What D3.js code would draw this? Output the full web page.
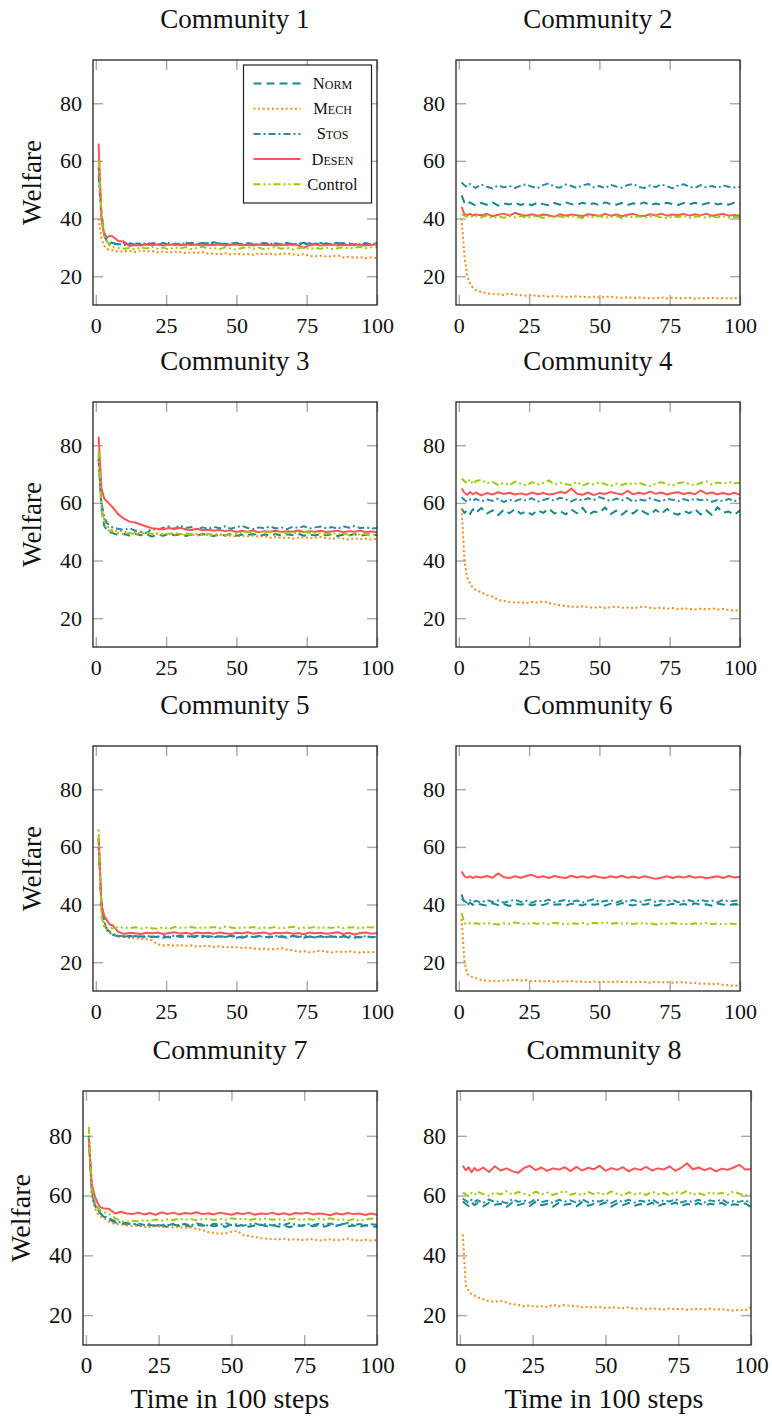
<!DOCTYPE html>
<html>
<head>
<meta charset="utf-8">
<script src="https://cdn.jsdelivr.net/npm/d3@7"></script>
<style>
  body { margin: 0; background: #fff; }
  svg text { font-family: "Liberation Serif", serif; fill: #111; }
</style>
</head>
<body>
<svg id="chart"></svg>
<script>
// x positions of the sampled points (time in 100 steps)
const steps = [1, 2, 3, 4, 5, 6, 8, 10, 12, 14, 16, 18, 20, 22, 24, 26, 28, 30, 32, 34, 36, 38, 40,
  42, 44, 46, 48, 50, 52, 54, 56, 58, 60, 62, 64, 66, 68, 70, 72, 74, 76, 78, 80,
  82, 84, 86, 88, 90, 92, 94, 96, 98, 100];

const xTicks = [0, 25, 50, 75, 100];
const yTicks = [20, 40, 60, 80];
const methods = ["Norm", "Mech", "Stos", "Desen", "Control"];
const communities = ["Community 1", "Community 2", "Community 3", "Community 4",
  "Community 5", "Community 6", "Community 7", "Community 8"];

// Community 1
const c1Norm = [58, 42, 35, 33, 32, 31.5, 31, 31.5, 30.8, 31.5, 31, 30.7, 31.4, 31, 31.5, 30.8, 31.3, 31, 31.6, 30.9, 31.2, 31.5, 31, 31.8, 31, 31.3, 30.8, 31.4, 31, 31.5, 30.9, 31.2, 31.5, 31, 31.3, 30.8, 31.5, 31, 31.2, 31.6, 30.9, 31.3, 31, 31.4, 30.8, 31.2, 31.5, 31, 30.9, 31.3, 31, 31.2, 31.5];
const c1Mech = [40, 33, 30.5, 29.5, 29, 29, 28.5, 28.6, 28.8, 28.4, 28.9, 28.5, 28.7, 28.3, 28.6, 28.2, 28.5, 28.4, 28, 28.3, 28.1, 28.4, 27.8, 27.9, 27.6, 28, 27.5, 27.8, 27.5, 27.7, 27.4, 27.9, 27.6, 27.8, 27.5, 27.7, 27.9, 27.6, 27.3, 27.7, 27, 26.9, 27.1, 26.8, 26.9, 27.2, 26.5, 26.7, 26.4, 26.6, 26.3, 26.5, 26.2];
const c1Stos = [55, 40, 34, 32, 31.5, 31, 31.2, 30.8, 31.4, 31, 31.5, 31.1, 31.6, 31, 31.3, 31.5, 30.9, 31.4, 31.2, 31.6, 31, 31.3, 31.5, 31.1, 31.4, 30.9, 31.3, 31.6, 31, 31.4, 31.2, 30.9, 31.5, 31.2, 31.4, 31, 31.6, 31.1, 31.3, 30.9, 31.4, 31.2, 31.5, 31, 31.3, 31.6, 31.1, 31.4, 30.9, 31.2, 31.5, 31, 31.4];
const c1Desen = [66, 40, 34.5, 33.5, 34, 33.8, 32.2, 32, 30.5, 30.8, 30.6, 31, 30.7, 31, 30.6, 30.9, 31, 30.7, 31, 30.8, 31, 30.6, 30.9, 30.8, 31, 30.6, 30.9, 31, 30.7, 30.9, 30.6, 31, 30.8, 30.9, 30.6, 31, 30.8, 31, 30.7, 29.8, 30.8, 31, 30.6, 30.8, 31, 30.6, 30.9, 30.7, 31, 30.8, 30.6, 30.9, 31];
const c1Control = [60, 42, 34, 32, 30.5, 30, 29.8, 29.5, 29.8, 29.3, 30, 29.6, 30.2, 29.5, 29.9, 29.3, 30, 29.6, 30.1, 29.4, 29.8, 30.2, 29.5, 29.8, 29.4, 30, 29.6, 29.2, 29.8, 30.1, 29.5, 29.9, 29.3, 29.7, 30.1, 29.5, 29.9, 29.3, 29.7, 30, 29.4, 29.8, 29.5, 29.9, 29.4, 29.7, 30.1, 29.6, 29.9, 30.2, 29.7, 30, 30];

// Community 2
const c2Norm = [48, 45.5, 44.8, 45.6, 45, 44.6, 45.4, 44.8, 45.6, 44.5, 45.2, 44.9, 45.5, 44.7, 45.3, 44.6, 45.5, 45, 44.6, 45.4, 44.8, 45.6, 45, 44.7, 45.5, 44.9, 45.3, 44.6, 45.6, 45, 44.8, 45.4, 44.7, 45.3, 44.9, 45.6, 44.6, 45.2, 44.8, 45.5, 45, 44.7, 45.4, 44.9, 45.5, 44.7, 45.2, 45.6, 44.9, 45.3, 44.8, 45.5, 45.1];
const c2Mech = [40, 27, 20, 17.5, 16, 15.2, 14.5, 14, 13.8, 13.7, 13.5, 14, 13.6, 13.4, 13.2, 13.5, 13, 13.2, 12.9, 13.1, 13, 12.8, 12.9, 13, 12.8, 12.7, 12.9, 12.6, 12.8, 12.9, 12.6, 12.5, 12.7, 12.4, 12.6, 12.5, 12.3, 12.4, 12.6, 12.3, 12.5, 12.4, 12.3, 12.5, 12.2, 12.4, 12.3, 12.5, 12.3, 12.4, 12.2, 12.4, 12.5];
const c2Stos = [52.5, 51.5, 51, 52, 51.2, 50.6, 51.8, 51, 50.4, 51.5, 50.8, 51.3, 50.6, 51.4, 51.9, 51, 50.5, 51.6, 52.2, 51, 50.7, 51.8, 51.3, 50.6, 51.5, 52, 50.8, 51.3, 50.5, 51.7, 51.1, 50.7, 51.6, 52, 51, 50.6, 51.5, 50.9, 51.8, 51.2, 50.5, 51.4, 51.9, 51, 50.6, 51.6, 50.8, 51.3, 50.7, 51.5, 51, 50.8, 51];
const c2Desen = [44, 41.5, 41.2, 41.6, 41, 41.4, 41.1, 41.6, 40.8, 41.3, 41.7, 41, 42, 41.3, 41, 41.5, 40.9, 41.4, 41.1, 40.6, 41.5, 41, 41.4, 41.1, 40.8, 41.5, 41.2, 40.9, 41.6, 41, 41.4, 40.8, 41.3, 41.6, 41, 40.9, 41.5, 41.1, 41.7, 41, 41.4, 41.2, 41.6, 41, 41.5, 41.1, 41.7, 40.9, 41.3, 41.6, 41, 41.2, 41];
const c2Control = [41.5, 41, 40.6, 41, 40.5, 40.8, 40.4, 41, 40.2, 40.7, 40.3, 40.8, 40.4, 40.9, 40.3, 40.6, 40.9, 40.2, 40.7, 40.4, 40.8, 40.3, 40.9, 40.5, 40.2, 40.8, 40.4, 40.9, 40.3, 40.6, 40.9, 40.2, 40.7, 40.4, 40.8, 40.3, 40.6, 40.9, 40.4, 40.1, 40.7, 40.5, 40.9, 40.3, 40.6, 40.8, 40.2, 40.7, 40.4, 40.9, 40.3, 40.6, 40.5];

// Community 3
const c3Norm = [76, 58, 52, 50.5, 49.8, 49.5, 48.8, 49.2, 48.7, 49.3, 48.8, 49.1, 48.3, 49, 48.6, 49.3, 48.8, 49.1, 48.5, 49, 48.7, 49.2, 48.8, 48.5, 49.1, 48.7, 49.3, 48.6, 49, 48.8, 49.2, 48.5, 49, 48.7, 49.2, 48.6, 49.1, 48.8, 49.3, 48.6, 49, 48.7, 49.2, 48.8, 49.1, 48.5, 49, 48.7, 49.2, 48.6, 48.9, 49.1, 48.8];
const c3Mech = [77, 60, 54, 52, 51, 50.5, 50.3, 50, 49.6, 49.8, 49.4, 49.5, 49.2, 49.3, 49, 49.4, 48.9, 49.2, 48.8, 49, 48.7, 49, 48.8, 48.6, 48.9, 48.5, 48.7, 48.3, 48.6, 48.4, 48.7, 48.3, 48.5, 47.9, 48.2, 47.8, 48, 47.6, 47.9, 48.1, 47.7, 47.9, 48.2, 47.8, 47.5, 47.9, 47.6, 47.3, 47.7, 47.4, 47.6, 47.3, 47.6];
const c3Stos = [75, 60, 55, 53, 52, 51.5, 51, 50.6, 51.2, 50.4, 50, 49.5, 51, 50.6, 51.4, 51.8, 51, 52.2, 51.3, 51.6, 50.8, 51.5, 51, 51.7, 51.2, 51.9, 51, 51.6, 52, 51.3, 50.9, 51.5, 51.2, 51.8, 51.1, 51.5, 50.9, 51.7, 51.3, 51.9, 51.1, 51.5, 51.8, 51.2, 51.6, 51, 51.9, 51.4, 52, 51.2, 51.6, 51.1, 51.3];
const c3Desen = [83, 65, 61.5, 60.5, 59.5, 58.5, 56, 54.5, 53.5, 53.2, 52.5, 51.8, 51.2, 51, 50.8, 51.3, 50.9, 51.4, 50.8, 50.6, 51, 50.5, 50.7, 50.3, 50.6, 50.2, 50.5, 49.9, 50.3, 50, 50.4, 49.8, 50.2, 50, 50.3, 49.9, 50.2, 50, 50.4, 49.9, 50.2, 50, 50.3, 49.9, 50.1, 50.3, 49.8, 50.2, 50, 50.3, 49.9, 50.1, 49.8];
const c3Control = [78, 58, 52.5, 51, 50.2, 50, 49.5, 49.2, 49.6, 49, 49.4, 49.7, 49.2, 49.5, 49, 49.3, 49.6, 49.1, 49.4, 49, 49.3, 48.9, 49.2, 49, 49.3, 48.8, 49.1, 49.4, 49.7, 49.9, 49.6, 50, 49.7, 49.9, 49.5, 49.8, 49.4, 49.7, 49.5, 49.9, 49.6, 49.3, 49.6, 49.2, 49.5, 49.1, 49.4, 48.9, 49.2, 49, 49.3, 48.9, 49];

// Community 4
const c4Norm = [58, 56.5, 57.5, 56.2, 57.8, 56.5, 58.2, 56.3, 57.4, 55.8, 57.6, 56.4, 57.9, 56.2, 57.1, 55.9, 57.5, 56.5, 58, 56.3, 57.2, 56, 57.7, 56.4, 58.3, 55.8, 57, 56.6, 58.4, 56.1, 57.3, 55.9, 57.5, 56.3, 58, 56.7, 55.8, 57.6, 56.2, 57.9, 56.5, 55.9, 57.2, 56.4, 57.8, 56, 57.4, 55.8, 58.5, 56.6, 57, 55.9, 57.4];
const c4Mech = [58, 40, 34, 32, 30.5, 29.8, 29, 28, 27.5, 26.3, 26, 25.6, 25.4, 25.5, 25.2, 25.6, 25.4, 25.8, 25.3, 24.8, 24.5, 24.2, 24, 23.9, 24.1, 23.8, 23.6, 23.9, 23.5, 23.8, 24, 23.6, 23.7, 23.5, 23.8, 24, 23.6, 23.4, 23.7, 23.2, 23.5, 23.1, 23.4, 23.2, 23, 23.3, 23.1, 23.4, 23, 23.2, 22.8, 22.6, 22.8];
const c4Stos = [62, 61, 60.4, 61.2, 60.6, 61.4, 60.5, 61.2, 60.7, 61.5, 60.3, 61.1, 60.6, 61.3, 60.8, 61.6, 60.4, 61, 61.5, 60.7, 61.8, 61.2, 60.5, 61.4, 60.8, 61.6, 61, 62, 61.3, 60.6, 61.5, 60.9, 61.7, 60.4, 61.2, 60.8, 61.6, 61, 60.5, 61.4, 61.1, 60.6, 61.3, 60.7, 61.5, 60.9, 61.2, 60.4, 61, 60.6, 61.4, 60.5, 61.6];
const c4Desen = [65, 63.5, 62.8, 63.8, 63, 63.6, 62.6, 63.4, 62.9, 63.7, 63.1, 63.5, 62.9, 63.3, 62.8, 63.6, 63, 63.4, 62.9, 63.2, 63.8, 63.4, 65, 63.2, 62.8, 63.6, 62.7, 63.4, 63.1, 63.8, 63.3, 62.9, 64.2, 63, 63.5, 63.1, 63.9, 63.2, 63.6, 62.9, 63.4, 63.7, 63.1, 63.5, 63, 64.3, 63.2, 63.6, 63, 63.4, 62.9, 63.5, 62.8];
const c4Control = [68.5, 67.5, 66.8, 68.2, 66.5, 67.5, 68, 66.8, 67.3, 66.2, 66.9, 66.1, 67.4, 66.6, 66, 67.2, 66.4, 66.9, 67.8, 66.3, 67, 66.5, 66.2, 67.3, 66, 66.8, 66.4, 67.1, 66.5, 65.8, 66.7, 66.2, 66.9, 66.4, 67, 66.3, 65.8, 66.6, 67.2, 66.5, 66, 66.8, 67.2, 66.5, 66.1, 66.9, 67.5, 66.4, 67.1, 66.6, 67.3, 66.8, 67];

// Community 5
const c5Norm = [60, 40, 34, 31, 30, 29.5, 29, 28.8, 29.2, 28.7, 29, 28.6, 28.9, 28.7, 29.1, 28.6, 28.9, 29.2, 28.7, 29, 28.6, 29.1, 28.8, 28.6, 29, 28.7, 29.2, 28.8, 28.5, 29, 28.7, 29.1, 28.6, 28.9, 28.6, 29, 28.7, 29.2, 28.8, 28.5, 28.9, 28.7, 29, 28.6, 28.9, 28.7, 29.1, 28.5, 28.9, 28.6, 29, 28.7, 28.8];
const c5Mech = [66, 38, 33, 31, 30, 29.5, 29, 28.7, 28.6, 28.3, 28.1, 28, 27.6, 26.2, 25.8, 26, 25.7, 25.9, 25.6, 25.8, 25.4, 25.6, 25.7, 25.3, 25.5, 25.1, 25.3, 25.2, 24.9, 25.1, 24.8, 24.5, 24.7, 24.4, 24.6, 24.9, 24.3, 24.1, 23.6, 23.8, 23.4, 23.7, 24, 23.6, 23.4, 23.7, 23.5, 23.8, 23.5, 23.3, 23.6, 23.4, 23.6];
const c5Stos = [63, 40, 34, 31.5, 30.5, 29.8, 29.2, 29, 28.6, 29.1, 28.8, 29.2, 28.7, 29, 28.5, 28.9, 29.2, 28.7, 29, 28.8, 29.2, 28.6, 29, 28.8, 29.1, 28.7, 29, 28.5, 28.9, 29.2, 28.7, 29, 28.8, 28.6, 29.1, 28.8, 28.5, 29, 28.7, 29.2, 28.9, 28.6, 29, 28.7, 29.1, 28.6, 28.9, 29.1, 28.5, 28.8, 29, 28.6, 28.9];
const c5Desen = [63, 40, 36, 34.5, 33, 32.8, 30.5, 29.8, 30.2, 30, 29.8, 30.2, 30, 30.3, 29.8, 30.1, 30.4, 29.9, 30.2, 29.8, 30.3, 30, 30.2, 29.9, 30.3, 30, 29.8, 30.2, 30, 30.4, 29.9, 30.1, 30.3, 29.8, 30.2, 30, 30.3, 29.9, 30.1, 29.7, 30.3, 30, 30.2, 29.9, 30.1, 30.4, 29.8, 30.2, 29.6, 30.1, 30.3, 29.9, 30.1];
const c5Control = [64, 36, 32, 31.5, 32, 31.8, 32.2, 32, 31.8, 32.1, 31.7, 32, 31.8, 31.6, 32.1, 31.5, 32.2, 31.9, 32, 32.2, 31.8, 32.1, 31.9, 32.2, 31.8, 32.3, 32, 31.7, 32.1, 31.9, 32.2, 31.8, 32, 31.9, 32.2, 31.7, 32, 32.3, 31.8, 32, 31.9, 32.2, 31.8, 32.1, 31.9, 32.3, 31.8, 32, 32.1, 31.7, 32.2, 32, 32.2];

// Community 6
const c6Norm = [43.5, 40.5, 39.8, 40.6, 39.9, 40.4, 40, 39.6, 40.4, 39.8, 40.2, 39.5, 40.3, 39.9, 40.4, 39.7, 40.2, 39.8, 40.5, 39.9, 40.1, 39.6, 40.3, 40, 39.7, 40.4, 39.9, 40.2, 39.6, 40.3, 39.8, 40.5, 40, 39.7, 40.2, 39.9, 40.4, 39.6, 40.1, 39.8, 40.3, 39.9, 40.2, 39.7, 40.4, 39.9, 40.1, 39.6, 40.3, 40, 39.8, 40.2, 40];
const c6Mech = [35, 20, 16, 15.2, 14.8, 14.5, 13.8, 13.5, 13.6, 13.4, 13.6, 13.7, 14, 13.6, 13.8, 13.4, 13.5, 13.3, 13.5, 13.2, 13.4, 13.3, 13.5, 13.2, 13.4, 13, 13.3, 13.1, 13.2, 13, 13.3, 13.1, 13.2, 13, 13.2, 13.1, 12.9, 13.2, 13, 13.1, 12.9, 13, 13.1, 12.7, 12.8, 12.5, 12.6, 12.4, 12.5, 12.2, 12, 11.8, 12];
const c6Stos = [42, 41.2, 40.6, 41.5, 40.8, 41.3, 40.7, 41.6, 40.9, 41.4, 40.6, 41.2, 41.7, 40.9, 41.3, 40.6, 41.5, 41, 41.7, 40.8, 41.2, 41.6, 40.9, 41.4, 40.7, 41.3, 41.8, 40.9, 41.2, 41.5, 40.7, 41.4, 41, 41.6, 40.8, 41.3, 41.7, 40.9, 41.4, 41, 41.6, 40.8, 41.2, 41.5, 40.9, 41.7, 41.1, 41.4, 40.8, 41.6, 41, 41.3, 41.5];
const c6Desen = [51.5, 49.8, 49.3, 49.8, 49.2, 49.7, 49.4, 49.9, 49.3, 50.8, 49.5, 49.2, 49.8, 49.3, 49.9, 50.3, 49.4, 49.8, 49.2, 49.9, 49.5, 49.2, 50, 49.4, 49.8, 49.3, 49.9, 49.5, 49.2, 49.8, 49.4, 50, 49.3, 49.7, 49.2, 49.8, 49.4, 48.9, 49.3, 49.8, 49.2, 49.7, 49.4, 49.9, 49.3, 49.6, 49.1, 49.5, 49.8, 49.2, 49.9, 49.4, 49.6];
const c6Control = [37, 33.5, 33.2, 33.6, 33.3, 33.5, 33.2, 33.6, 33.3, 33.1, 33.5, 33.3, 33.8, 33.4, 33.2, 33.6, 33.3, 33.5, 33.2, 33.7, 33.4, 33.1, 33.5, 33.3, 33.6, 33.2, 33.7, 33.4, 33.9, 33.3, 33.6, 33.4, 33.5, 33.2, 33.6, 33.3, 33.5, 33.1, 33.4, 33.2, 33.6, 33.3, 33.4, 33.1, 33.5, 33.3, 33.6, 33.2, 33.4, 33.1, 33.5, 33.2, 33.4];

// Community 7
const c7Norm = [80, 62, 57, 55, 54, 53, 52, 51, 50.8, 50.3, 50.6, 50.1, 49.8, 50.2, 49.7, 50.1, 49.5, 50.3, 49.8, 50.1, 49.6, 50.2, 49.9, 50.3, 49.7, 50.1, 49.5, 50.4, 49.8, 50.2, 49.6, 50, 50.3, 49.7, 50.2, 49.6, 50, 49.4, 50.1, 49.8, 50.3, 49.7, 50.1, 49.6, 50.2, 49.8, 50.4, 49.7, 50, 49.5, 50.1, 49.7, 49.6];
const c7Mech = [80, 60, 56, 54, 53, 52.5, 51.2, 50.5, 50.3, 50, 49.8, 50, 49.6, 49.5, 49.8, 49.4, 49.6, 49.3, 49.5, 49.1, 49.4, 48.8, 48.5, 47.8, 47.5, 47.2, 47.4, 47.9, 48.2, 46.8, 46.5, 46.1, 45.8, 45.6, 45.5, 45.3, 45.6, 45.2, 45.4, 45.1, 45.3, 45.5, 44.9, 45.2, 45.4, 45, 45.3, 45.6, 45.1, 44.9, 45.2, 45, 45.1];
const c7Stos = [80, 61, 57, 55.5, 54, 53.2, 52.3, 51.5, 51, 50.8, 50.4, 50.7, 50.2, 50.5, 49.9, 50.4, 50, 50.6, 50.1, 50.5, 50, 50.7, 50.3, 50, 50.6, 50.2, 50.8, 50.1, 50.5, 49.9, 50.4, 50.7, 50.1, 50.5, 50, 50.6, 50.2, 50.8, 50.3, 49.9, 50.5, 50.1, 50.6, 50.2, 50.7, 50, 50.4, 50.8, 50.1, 50.5, 50, 50.4, 50.2];
const c7Desen = [79, 64, 60, 57.5, 56, 55.8, 55.5, 54, 54.6, 54, 53.8, 54.3, 53.7, 54.2, 53.6, 54.4, 53.8, 54.3, 53.7, 54.2, 53.9, 54.4, 53.8, 54.1, 53.7, 54.3, 53.9, 53.6, 54.2, 53.8, 54.3, 53.6, 54, 53.8, 54.3, 53.7, 54.1, 53.6, 54.2, 53.9, 54.3, 53.7, 54, 53.8, 53.4, 54.1, 53.7, 54.2, 53.8, 54, 53.5, 54, 53.6];
const c7Control = [83, 62, 58, 56, 55, 54.5, 53.8, 52.5, 51.5, 51.2, 51.6, 51.4, 51.8, 51.5, 52, 51.6, 52.1, 51.8, 52.3, 51.9, 52.2, 51.7, 52.1, 52.3, 51.8, 52.2, 51.9, 52.4, 52, 52.3, 51.8, 52.2, 52, 52.4, 51.9, 52.2, 51.7, 52.1, 52.3, 51.8, 52.2, 51.9, 52.3, 52, 52.4, 51.8, 52.1, 51.6, 52.2, 51.5, 52, 52.3, 52.1];

// Community 8
const c8Norm = [58, 57.2, 56.5, 57.8, 56.8, 57.5, 56.4, 57.6, 56.9, 57.3, 56.2, 57.7, 56.8, 57.4, 56.5, 57.9, 56.8, 57.2, 56.3, 57.6, 56.9, 57.3, 56.4, 57.8, 56.6, 57.2, 56.9, 57.7, 56.3, 57.4, 56.8, 57.5, 56.6, 57.2, 56.8, 57.6, 56.4, 57.3, 56.9, 57.7, 56.5, 57.2, 56.8, 57.5, 56.6, 57.3, 56.9, 57.6, 56.5, 57.1, 56.8, 57.4, 56.2];
const c8Mech = [47, 30, 28, 27, 26.5, 26, 25.3, 24.6, 24.5, 24.8, 24.2, 23.6, 23.5, 23, 23.2, 22.8, 23, 22.7, 23.5, 22.9, 23.4, 23.1, 23, 22.6, 22.8, 22.5, 22.7, 22.4, 22.6, 22.5, 22.3, 22.6, 22.1, 22.3, 22, 22.2, 22.1, 21.9, 22.2, 22, 22.1, 21.8, 22, 22.1, 21.9, 22.2, 21.8, 22, 21.7, 21.5, 21.8, 21.6, 22.6];
const c8Stos = [59, 58.3, 57.6, 58.6, 57.9, 58.5, 57.5, 58.7, 57.8, 58.2, 57.4, 58.8, 57.9, 58.4, 57.6, 58.9, 57.8, 58.3, 57.5, 58.6, 58, 58.4, 57.6, 58.8, 57.7, 58.3, 58, 58.7, 57.5, 58.4, 57.9, 58.6, 57.7, 58.3, 57.9, 58.7, 57.6, 58.4, 58, 58.8, 57.7, 58.3, 57.9, 58.6, 57.7, 58.4, 58, 58.7, 57.6, 58.2, 57.9, 58.5, 57.4];
const c8Desen = [70, 68.5, 69.5, 67.8, 69.2, 68.3, 69.4, 67.9, 69.8, 68.4, 69.1, 68.2, 67.6, 69.2, 70, 68.5, 69.4, 68.3, 69.1, 68.7, 69.5, 68.2, 69.6, 68.4, 69.3, 68.8, 70, 68.3, 69.2, 68.6, 69.5, 68.1, 69.1, 68.6, 69.6, 68.4, 69.1, 68.7, 69.8, 68.3, 69.3, 70.8, 68.8, 69.4, 68.5, 69.2, 68.1, 69, 68.6, 69.4, 70.3, 68.7, 68.8];
const c8Control = [61, 60.4, 59.8, 60.9, 60.2, 61.3, 60.5, 59.9, 61, 60.4, 61.5, 60.3, 61.2, 60.6, 60.1, 61.3, 60.4, 61, 60.2, 60.9, 61.5, 60.3, 60.8, 60.1, 61.2, 60.5, 60.9, 60.2, 61.4, 60.6, 60, 61.1, 60.4, 60.8, 60.2, 61.3, 60.5, 60.9, 60.1, 61.2, 60.6, 61.6, 60.3, 60.8, 60.2, 61.1, 60.5, 60.9, 60.3, 61.4, 60.6, 60, 60.7];

// one row per community, columns in the order of `methods`
const welfare = [
  [c1Norm, c1Mech, c1Stos, c1Desen, c1Control],
  [c2Norm, c2Mech, c2Stos, c2Desen, c2Control],
  [c3Norm, c3Mech, c3Stos, c3Desen, c3Control],
  [c4Norm, c4Mech, c4Stos, c4Desen, c4Control],
  [c5Norm, c5Mech, c5Stos, c5Desen, c5Control],
  [c6Norm, c6Mech, c6Stos, c6Desen, c6Control],
  [c7Norm, c7Mech, c7Stos, c7Desen, c7Control],
  [c8Norm, c8Mech, c8Stos, c8Desen, c8Control]
];

const lineStyle = {
  Norm:    { color: "#16898a", dash: "8,5" },
  Mech:    { color: "#ff8a1c", dash: "2,2.6" },
  Stos:    { color: "#2a8ba6", dash: "7,3,2,3" },
  Desen:   { color: "#ff5356", dash: null },
  Control: { color: "#9acd0a", dash: "7,3,2,3,2,3" }
};

const svg = d3.select("#chart")
  .attr("width", 772)
  .attr("height", 1418);

// box of each panel; the bottom row is drawn a touch larger
function panelBox(i) {
  const row = Math.floor(i / 2), col = i % 2;
  if (row < 3) return { left: [93, 456][col], top: [60, 402, 746][row], w: 284, h: 245, fs: 22, big: 27, ylab: -61 };
  return { left: [83, 457][col], top: 1091, w: 294, h: 254, fs: 23, big: 28, ylab: -63 };
}

communities.forEach(function (name, i) {
  const b = panelBox(i);
  const g = svg.append("g").attr("transform", "translate(" + b.left + "," + b.top + ")");

  const x = d3.scaleLinear().domain([-1, 100]).range([0, b.w]);
  const y = d3.scaleLinear().domain([10, 95]).range([b.h, 0]);

  g.append("clipPath").attr("id", "clip" + i)
    .append("rect").attr("width", b.w).attr("height", b.h);

  // ticks on all four sides, pointing inwards
  const axes = [
    { ax: d3.axisBottom(x).tickValues(xTicks).tickSize(-10).tickPadding(28 - 0.71 * b.fs), t: "translate(0," + b.h + ")" },
    { ax: d3.axisTop(x).tickValues(xTicks).tickSize(-10).tickFormat(""), t: null },
    { ax: d3.axisLeft(y).tickValues(yTicks).tickSize(-10).tickPadding(11), t: null },
    { ax: d3.axisRight(y).tickValues(yTicks).tickSize(-10).tickFormat(""), t: "translate(" + b.w + ",0)" }
  ];
  axes.forEach(function (a) {
    const ag = g.append("g").call(a.ax);
    if (a.t) ag.attr("transform", a.t);
    ag.select(".domain").remove();
    ag.selectAll(".tick line").attr("stroke", "#a8a8a8").attr("stroke-width", 1.4);
    ag.selectAll(".tick text")
      .attr("fill", "#111")
      .style("font-family", "'Liberation Serif', serif")
      .style("font-size", b.fs + "px");
  });

  // series
  const line = d3.line()
    .x(function (d, j) { return x(steps[j]); })
    .y(function (d) { return y(d); });

  const lines = g.append("g").attr("clip-path", "url(#clip" + i + ")");
  methods.forEach(function (m, k) {
    lines.append("path")
      .datum(welfare[i][k])
      .attr("fill", "none")
      .attr("stroke", lineStyle[m].color)
      .attr("stroke-width", 2)
      .attr("stroke-dasharray", lineStyle[m].dash)
      .attr("stroke-linejoin", "round")
      .attr("d", line);
  });

  // frame
  g.append("rect")
    .attr("width", b.w).attr("height", b.h)
    .attr("fill", "none").attr("stroke", "#222").attr("stroke-width", 1.3);

  // title
  g.append("text")
    .attr("x", b.w / 2).attr("y", -32)
    .attr("text-anchor", "middle")
    .style("font-size", b.big + "px")
    .text(name);

  if (i % 2 === 0) {
    g.append("text")
      .attr("transform", "translate(" + b.ylab + "," + (b.h / 2) + ") rotate(-90)")
      .attr("text-anchor", "middle")
      .attr("dy", "0.35em")
      .style("font-size", b.big + "px")
      .text("Welfare");
  }
  if (i >= 6) {
    g.append("text")
      .attr("x", b.w / 2).attr("y", b.h + 63)
      .attr("text-anchor", "middle")
      .style("font-size", b.big + "px")
      .text("Time in 100 steps");
  }

  // legend lives in the first panel only
  if (i === 0) {
    const lg = g.append("g").attr("transform", "translate(150.5,5)");
    lg.append("rect")
      .attr("width", 128).attr("height", 138)
      .attr("fill", "#fff").attr("stroke", "#222").attr("stroke-width", 1.2);
    methods.forEach(function (m, k) {
      const ly = 18.5 + k * 25.2;
      lg.append("line")
        .attr("x1", 10).attr("x2", 57).attr("y1", ly).attr("y2", ly)
        .attr("stroke", lineStyle[m].color)
        .attr("stroke-width", 2)
        .attr("stroke-dasharray", lineStyle[m].dash);
      lg.append("text")
        .attr("x", 89).attr("y", ly).attr("dy", "0.33em")
        .attr("text-anchor", "middle")
        .style("font-size", "16.5px")
        .style("font-variant", m === "Control" ? "normal" : "small-caps")
        .text(m);
    });
  }
});
</script>
</body>
</html>
